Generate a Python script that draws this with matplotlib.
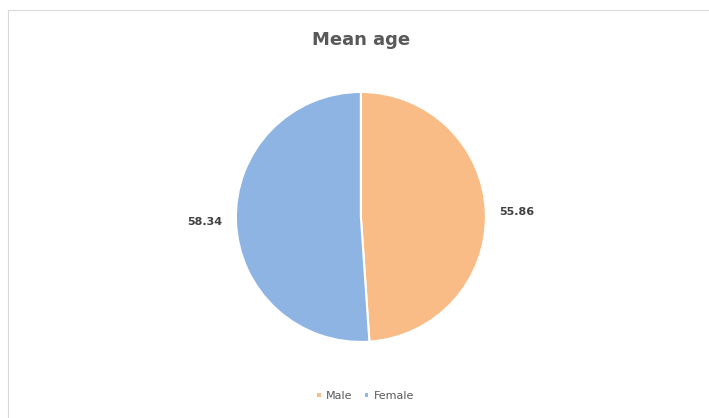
import matplotlib.pyplot as plt
from matplotlib.patches import Rectangle

labels = ['Male', 'Female']
values = [55.86, 58.34]
colors = ['#F9BC86', '#8DB4E3']

fig = plt.figure(figsize=(7.09, 4.18), dpi=100)
fig.patches.append(Rectangle((8/709, -0.01), 1.0, 1 - 10/418 + 0.01, transform=fig.transFigure,
                             fill=False, edgecolor='#D9D9D9', linewidth=0.8))

ax = fig.add_axes([0.509 - 0.1763, 0.481 - 0.299, 0.3526, 0.598])
wedges, texts = ax.pie(values, colors=colors, startangle=90, counterclock=False,
                       labels=[f'{v:.2f}' for v in values], labeldistance=1.11,
                       wedgeprops=dict(edgecolor='white', linewidth=1.5),
                       textprops=dict(color='#404040', fontsize=8, fontweight='bold'))
ax.set_xlim(-1, 1)
ax.set_ylim(-1, 1)
ax.set_aspect('equal')

fig.text(0.509, 1 - 40/418, 'Mean age', ha='center', va='center',
         fontsize=13, color='#595959', fontweight='bold')

fig.legend(wedges, labels, loc='center', bbox_to_anchor=(0.515, 1 - 396/418), ncol=2,
           frameon=False, fontsize=8, handlelength=0.5, handleheight=0.5,
           columnspacing=1.0, handletextpad=0.4, labelcolor='#595959')

fig.savefig('out.png', dpi=100)
